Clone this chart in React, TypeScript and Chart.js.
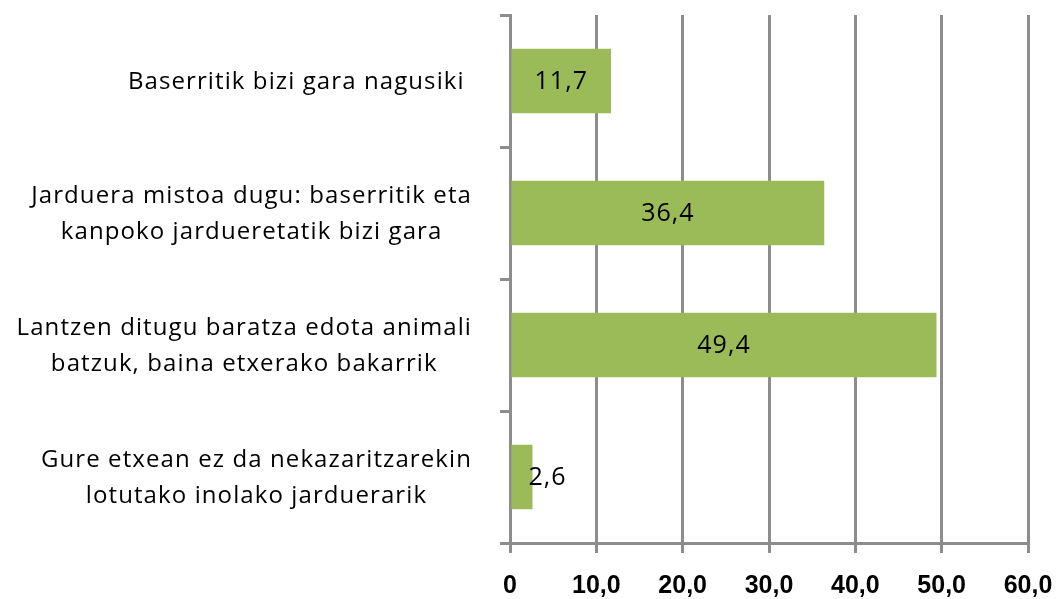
import React, { useEffect, useRef } from "react";
import { Chart, registerables } from "chart.js";

Chart.register(...registerables);

const categories: string[][] = [
  ["Baserritik bizi gara nagusiki "],
  ["Jarduera mistoa dugu: baserritik eta", "kanpoko jardueretatik bizi gara"],
  ["Lantzen ditugu baratza edota animali", "batzuk, baina etxerako bakarrik"],
  ["Gure etxean ez da nekazaritzarekin", "lotutako inolako jarduerarik"],
];
const values: number[] = [11.7, 36.4, 49.4, 2.6];
const xTicks: number[] = [0, 10, 20, 30, 40, 50, 60];

const GRAY = "#8d8d8d";
const GREEN = "#9bbb59";
const LABEL_FONT = "24px 'Open Sans'";
const VALUE_FONT = "25px 'Open Sans'";

const fmt = (v: number) => (v === 0 ? "0" : v.toFixed(1).replace(".", ","));

const categoryLabelPlugin = {
  id: "categoryLabels",
  afterDraw(chart: any) {
    const ctx = chart.ctx;
    const yScale = chart.scales.y;
    ctx.save();
    ctx.font = LABEL_FONT;
    (ctx as any).letterSpacing = "1.1px";
    ctx.fillStyle = "#000";
    ctx.textBaseline = "middle";
    ctx.textAlign = "center";
    const right = 472;
    const lh = 36;
    categories.forEach((lines, i) => {
      const y = yScale.getPixelForValue(i) + 1;
      const maxW = Math.max(...lines.map((l) => ctx.measureText(l).width));
      const cx = right - maxW / 2;
      lines.forEach((line, j) => {
        ctx.fillText(line, cx, y + (j - (lines.length - 1) / 2) * lh);
      });
    });
    ctx.restore();
  },
};

const valueLabelPlugin = {
  id: "valueLabels",
  afterDatasetsDraw(chart: any) {
    const ctx = chart.ctx;
    const meta = chart.getDatasetMeta(0);
    ctx.save();
    ctx.font = VALUE_FONT;
    (ctx as any).letterSpacing = "1px";
    ctx.fillStyle = "#000";
    ctx.textBaseline = "middle";
    meta.data.forEach((bar: any, i: number) => {
      const text = fmt(values[i]);
      const w = ctx.measureText(text).width;
      const left = Math.min(bar.x, bar.base);
      const right = Math.max(bar.x, bar.base);
      if (w + 6 < right - left) {
        ctx.textAlign = "center";
        ctx.fillText(text, (left + right) / 2, bar.y + 1);
      } else {
        ctx.textAlign = "left";
        ctx.fillText(text, right - 4, bar.y + 1);
      }
    });
    ctx.restore();
  },
};

export default function App() {
  const ref = useRef<HTMLCanvasElement | null>(null);
  useEffect(() => {
    document.body.style.margin = "0";
    const chart = new Chart(ref.current as HTMLCanvasElement, {
      type: "bar",
      data: {
        labels: categories.map((c) => c.join(" ")),
        datasets: [
          {
            data: values,
            backgroundColor: GREEN,
            borderWidth: 0,
            categoryPercentage: 1,
            barPercentage: 0.49,
          },
        ],
      },
      options: {
        indexAxis: "y",
        animation: false,
        responsive: false,
        maintainAspectRatio: false,
        layout: { padding: { top: 15, right: 34, left: 0, bottom: 0 } },
        plugins: {
          legend: { display: false },
          tooltip: { enabled: false },
          title: { display: false },
        },
        scales: {
          x: {
            min: 0,
            max: 60,
            afterBuildTicks: (scale: any) => {
              scale.ticks = xTicks.map((v) => ({ value: v }));
            },
            afterFit: (scale: any) => {
              scale.height = 56;
              scale.paddingRight = 0;
              scale.paddingLeft = 0;
            },
            grid: {
              color: GRAY,
              lineWidth: 3,
              tickLength: 10,
              drawTicks: true,
            },
            border: { color: GRAY, width: 3 },
            ticks: {
              color: "#000",
              padding: 18,
              font: { family: "Liberation Sans", size: 25, weight: "bold" },
              callback: (v: any) => fmt(Number(v)),
            },
          },
          y: {
            afterFit: (scale: any) => {
              scale.width = 510;
            },
            grid: {
              color: GRAY,
              lineWidth: 3,
              drawOnChartArea: false,
              drawTicks: true,
              tickLength: 10,
              offset: true,
            },
            border: { color: GRAY, width: 3 },
            ticks: { display: false },
          },
        },
      },
      plugins: [categoryLabelPlugin, valueLabelPlugin],
    } as any);
    return () => chart.destroy();
  }, []);
  return <canvas ref={ref} width={1062} height={599} style={{ display: "block" }} />;
}
